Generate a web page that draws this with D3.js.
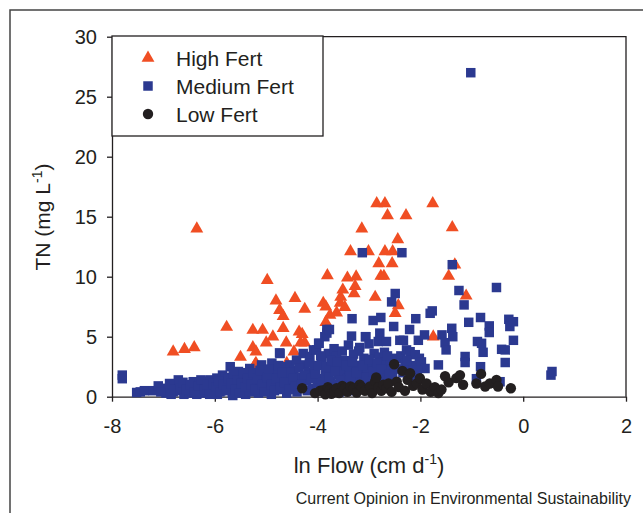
<!DOCTYPE html>
<html>
<head>
<meta charset="utf-8">
<script src="https://cdn.jsdelivr.net/npm/d3@7"></script>
<style>
    body { margin: 0; background: #fff; }
    svg { display: block; font-family: "Liberation Sans", Arial, sans-serif; }
    .axis path, .axis line { stroke: #231f20; stroke-width: 1.3; }
    .axis text { font-size: 20px; fill: #231f20; }
</style>
</head>
<body>
<div id="chart"></div>
<script>
// Data: [ln flow (cm/d), TN (mg/L)]
const highFert = [
    [-6.35, 14.0], [-6.81, 3.75], [-6.59, 3.95], [-6.40, 4.1], [-5.77, 5.8], [-5.50, 3.3],
    [-5.26, 5.55], [-5.07, 5.55], [-4.98, 9.7], [-4.81, 8.0], [-4.74, 7.2], [-4.67, 6.7],
    [-4.44, 8.2], [-4.25, 7.3], [-4.67, 5.7], [-4.87, 5.0], [-5.00, 4.5], [-4.61, 4.5],
    [-5.26, 4.1], [-5.20, 3.75], [-4.36, 5.4], [-4.30, 5.2], [-4.33, 4.5], [-4.25, 4.5],
    [-4.46, 3.75], [-5.20, 2.8], [-4.60, 2.8], [-5.22, 2.65], [-3.81, 10.1], [-3.89, 7.8],
    [-3.84, 7.5], [-3.76, 6.8], [-3.63, 7.0], [-3.56, 7.8], [-3.55, 8.3], [-3.51, 8.9],
    [-3.47, 7.45], [-3.42, 9.9], [-3.25, 10.0], [-3.27, 9.2], [-3.29, 8.6], [-3.36, 12.1],
    [-3.14, 14.0], [-3.84, 6.2], [-2.85, 16.1], [-2.69, 16.1], [-1.76, 16.1], [-2.64, 15.1],
    [-2.28, 15.1], [-1.38, 14.1], [-2.44, 13.1], [-3.01, 12.1], [-2.69, 12.1], [-2.54, 12.1],
    [-2.81, 11.1], [-2.55, 11.1], [-1.33, 11.0], [-2.77, 10.05], [-2.71, 10.05], [-1.45, 10.05],
    [-2.88, 8.3], [-1.11, 8.4], [-2.43, 7.6], [-2.49, 6.95], [-1.75, 5.0]
];

const mediumFert = [
    [-7.80, 1.5], [-7.80, 1.8], [-7.52, 0.35], [-7.45, 0.4], [-7.37, 0.5], [-7.00, 0.7],
    [-6.95, 0.3], [-6.90, 0.6], [-6.81, 0.4], [-6.75, 0.9], [-6.71, 1.4], [-6.65, 0.5],
    [-6.60, 0.2], [-6.58, 1.0], [-6.50, 0.3], [-6.45, 0.8], [-6.42, 1.25], [-6.39, 0.7],
    [-6.35, 0.2], [-6.30, 1.1], [-6.29, 0.55], [-6.25, 0.3], [-6.22, 0.9], [-6.18, 0.4],
    [-6.12, 1.3], [-6.09, 1.4], [-6.05, 0.7], [-6.00, 0.3], [-5.96, 1.55], [-5.95, 0.2],
    [-5.92, 1.0], [-5.88, 0.5], [-5.85, 1.8], [-5.80, 1.6], [-5.76, 1.2], [-5.72, 0.8],
    [-5.70, 2.5], [-5.66, 0.3], [-5.65, 0.1], [-5.62, 1.5], [-5.58, 1.0], [-5.54, 2.1],
    [-5.50, 0.6], [-5.46, 1.7], [-5.42, 1.2], [-5.40, 0.2], [-5.38, 1.95], [-5.35, 0.9],
    [-5.32, 2.35], [-5.28, 0.4], [-5.25, 1.5], [-5.20, 1.1], [-5.15, 1.9], [-5.15, 0.3],
    [-5.10, 0.7], [-5.09, 2.65], [-5.05, 1.4], [-5.00, 2.0], [-4.96, 0.5], [-4.93, 1.2],
    [-4.90, 0.2], [-4.89, 2.8], [-4.86, 1.7], [-4.82, 0.9], [-4.78, 2.2], [-4.74, 3.65],
    [-4.73, 3.6], [-4.70, 1.4], [-4.66, 0.6], [-4.62, 2.5], [-4.60, 0.3], [-4.58, 1.9],
    [-4.54, 2.65], [-4.50, 1.1], [-4.46, 2.2], [-4.41, 3.05], [-4.40, 0.4], [-4.38, 0.8],
    [-4.34, 1.6], [-4.28, 3.6], [-4.25, 2.65], [-4.22, 1.3], [-4.18, 2.0], [-4.15, 3.35],
    [-4.10, 0.7], [-4.08, 3.9], [-4.06, 2.4], [-4.02, 3.9], [-4.00, 1.0], [-3.98, 4.45],
    [-3.97, 4.45], [-3.95, 1.5], [-3.93, 0.5], [-3.92, 2.9], [-3.88, 0.9], [-3.86, 5.0],
    [-3.85, 1.8], [-3.82, 5.6], [-3.82, 5.3], [-3.80, 2.2], [-3.79, 3.6], [-3.77, 5.6],
    [-3.75, 1.3], [-3.72, 2.7], [-3.70, 0.6], [-3.68, 4.0], [-3.65, 1.0], [-3.63, 3.35],
    [-3.60, 1.8], [-3.58, 0.4], [-3.55, 2.5], [-3.50, 0.9], [-3.48, 2.0], [-3.46, 3.0],
    [-3.42, 1.5], [-3.40, 0.7], [-3.38, 2.2], [-3.35, 1.0], [-3.34, 5.05], [-3.33, 6.5],
    [-3.30, 3.55], [-3.28, 0.5], [-3.26, 1.2], [-3.22, 2.6], [-3.20, 1.5], [-3.18, 4.1],
    [-3.16, 0.9], [-3.14, 1.8], [-3.13, 12.0], [-3.10, 3.2], [-3.08, 2.0], [-3.07, 5.0],
    [-3.06, 5.0], [-3.04, 2.3], [-3.02, 1.2], [-3.00, 4.4], [-2.98, 2.8], [-2.96, 1.5],
    [-2.94, 0.9], [-2.92, 6.35], [-2.90, 3.6], [-2.88, 1.9], [-2.86, 2.4], [-2.82, 4.6],
    [-2.80, 3.3], [-2.79, 5.3], [-2.77, 6.6], [-2.74, 2.9], [-2.72, 1.7], [-2.70, 3.7],
    [-2.68, 2.6], [-2.66, 4.6], [-2.62, 2.2], [-2.58, 3.0], [-2.56, 7.9], [-2.54, 1.6],
    [-2.52, 5.85], [-2.49, 8.6], [-2.47, 3.2], [-2.44, 2.3], [-2.40, 4.7], [-2.38, 3.4],
    [-2.36, 12.0], [-2.33, 4.7], [-2.30, 2.8], [-2.27, 3.9], [-2.24, 2.2], [-2.21, 5.6],
    [-2.20, 3.75], [-2.14, 2.6], [-2.10, 3.5], [-2.09, 6.5], [-2.04, 4.7], [-2.02, 3.2],
    [-1.98, 2.9], [-1.92, 5.15], [-1.91, 2.35], [-1.81, 6.95], [-1.77, 7.15], [-1.65, 2.65],
    [-1.58, 5.15], [-1.52, 4.5], [-1.50, 3.9], [-1.39, 5.7], [-1.38, 11.0], [-1.37, 5.0],
    [-1.25, 8.85], [-1.15, 7.65], [-1.13, 3.35], [-1.13, 2.85], [-1.06, 6.2], [-1.02, 27.0],
    [-0.91, 1.5], [-0.89, 4.6], [-0.83, 6.6], [-0.83, 2.5], [-0.81, 4.45], [-0.78, 3.7],
    [-0.66, 5.9], [-0.66, 5.35], [-0.52, 9.1], [-0.45, 1.25], [-0.42, 3.95], [-0.35, 3.9],
    [-0.35, 2.85], [-0.28, 6.45], [-0.26, 5.85], [-0.19, 6.25], [-0.19, 4.7], [0.54, 1.8],
    [0.56, 2.1],
    // dense band underneath
    [-7.20, 0.5], [-7.10, 0.9], [-7.05, 0.4], [-6.88, 1.1], [-6.85, 0.2], [-6.78, 0.6],
    [-6.68, 0.7], [-6.62, 1.2], [-6.55, 0.6], [-6.48, 1.0], [-6.40, 0.4], [-6.33, 0.9],
    [-6.27, 1.4], [-6.20, 0.6], [-6.15, 1.0], [-6.10, 0.2], [-6.03, 1.1], [-5.98, 0.8],
    [-5.93, 1.3], [-5.90, 0.4], [-5.83, 1.0], [-5.78, 0.5], [-5.74, 1.5], [-5.68, 1.1],
    [-5.64, 1.9], [-5.60, 0.6], [-5.56, 1.4], [-5.52, 0.3], [-5.48, 1.1], [-5.44, 2.0],
    [-5.40, 0.8], [-5.36, 1.5], [-5.30, 1.0], [-5.26, 2.0], [-5.22, 0.6], [-5.18, 1.5],
    [-5.12, 2.2], [-5.08, 1.0], [-5.03, 0.4], [-4.98, 1.6], [-4.95, 2.3], [-4.90, 1.0],
    [-4.84, 0.5], [-4.80, 1.5], [-4.76, 2.6], [-4.72, 0.8], [-4.68, 2.0], [-4.64, 1.2],
    [-4.56, 0.6], [-4.52, 2.0], [-4.48, 1.5], [-4.44, 0.9], [-4.36, 2.4], [-4.32, 1.0],
    [-4.26, 1.8], [-4.20, 0.5], [-4.16, 2.8], [-4.12, 1.5], [-4.04, 1.9], [-3.98, 2.6],
    [-3.94, 3.4], [-3.90, 1.2], [-3.84, 2.5], [-3.78, 1.6], [-3.74, 3.0], [-3.66, 2.1],
    [-3.62, 2.9], [-3.56, 1.4], [-3.52, 3.8], [-3.44, 2.6], [-3.40, 4.3], [-3.36, 1.7],
    [-3.32, 2.9], [-3.24, 2.0], [-3.20, 3.8], [-3.12, 2.6], [-3.06, 1.6], [-3.00, 3.1],
    [-2.92, 2.1], [-2.84, 2.8], [-2.76, 2.3], [-2.64, 3.4], [-2.60, 1.9], [-2.50, 2.6],
    [-2.34, 2.0], [-2.26, 3.0], [-2.16, 1.6], [-2.06, 2.2]
];

const lowFert = [
    [-4.30, 0.7], [-4.05, 0.3], [-3.95, 0.5], [-3.89, 0.55], [-3.85, 0.2], [-3.80, 0.8],
    [-3.76, 0.6], [-3.73, 0.25], [-3.68, 0.4], [-3.63, 0.7], [-3.58, 0.3], [-3.52, 0.9],
    [-3.47, 0.7], [-3.42, 0.4], [-3.36, 0.85], [-3.30, 0.7], [-3.24, 0.35], [-3.18, 1.0],
    [-3.14, 0.8], [-3.08, 0.5], [-2.98, 0.85], [-2.94, 0.3], [-2.88, 1.3], [-2.86, 1.6],
    [-2.82, 0.8], [-2.76, 0.5], [-2.72, 1.0], [-2.66, 0.7], [-2.62, 1.1], [-2.56, 0.4],
    [-2.51, 2.7], [-2.46, 1.25], [-2.42, 0.8], [-2.35, 2.15], [-2.30, 0.5], [-2.25, 1.4],
    [-2.20, 1.95], [-2.14, 0.9], [-2.07, 1.1], [-2.01, 1.55], [-1.96, 0.6], [-1.88, 1.1],
    [-1.80, 0.4], [-1.72, 0.8], [-1.65, 0.3], [-1.59, 0.6], [-1.52, 1.7], [-1.45, 1.2],
    [-1.30, 1.55], [-1.23, 1.8], [-1.17, 1.0], [-0.91, 1.1], [-0.82, 1.9], [-0.74, 0.85],
    [-0.65, 1.1], [-0.52, 1.4], [-0.49, 0.85], [-0.24, 0.7]
];

const xTicks = [-8, -6, -4, -2, 0, 2];
const yTicks = [0, 5, 10, 15, 20, 25, 30];
const seriesNames = ['High Fert', 'Medium Fert', 'Low Fert'];
const seriesColors = ['#f04e23', '#2b3990', '#231f20'];

const width = 643;
const height = 513;

const svg = d3.select('#chart')
    .append('svg')
    .attr('width', width)
    .attr('height', height);

// Outer figure frame (only top and left edges show in the crop)
svg.append('path')
    .attr('d', `M10,${height} L10,10 L${width},10`)
    .attr('fill', 'none')
    .attr('stroke', '#444')
    .attr('stroke-width', 1.5);

const x = d3.scaleLinear().domain([-8, 2]).range([112, 626]);
const y = d3.scaleLinear().domain([0, 30]).range([396.7, 36.7]);

// Plot box: top and right edges
svg.append('path')
    .attr('d', `M${x(-8)},${y(30)} L${x(2)},${y(30)} L${x(2)},${y(0)}`)
    .attr('fill', 'none')
    .attr('stroke', '#231f20')
    .attr('stroke-width', 1.3);

// Axes
svg.append('g')
    .attr('class', 'axis')
    .attr('transform', `translate(0,${y(0)})`)
    .call(d3.axisBottom(x).tickValues(xTicks).tickSize(5).tickSizeOuter(0).tickPadding(17)
        .tickFormat(d => d));

svg.append('g')
    .attr('class', 'axis')
    .attr('transform', `translate(${x(-8)},0)`)
    .call(d3.axisLeft(y).tickValues(yTicks).tickSize(5).tickSizeOuter(0).tickPadding(10));

// Points: triangles first, then squares, then circles on top
const tri = d3.symbol().type(d3.symbolTriangle).size(72);
const sq = d3.symbol().type(d3.symbolSquare).size(90);

svg.append('g')
    .selectAll('path')
    .data(highFert)
    .enter()
    .append('path')
    .attr('d', tri)
    .attr('transform', d => `translate(${x(d[0])},${y(d[1])})`)
    .attr('fill', seriesColors[0]);

svg.append('g')
    .selectAll('path')
    .data(mediumFert)
    .enter()
    .append('path')
    .attr('d', sq)
    .attr('transform', d => `translate(${x(d[0])},${y(d[1])})`)
    .attr('fill', seriesColors[1]);

svg.append('g')
    .selectAll('circle')
    .data(lowFert)
    .enter()
    .append('circle')
    .attr('cx', d => x(d[0]))
    .attr('cy', d => y(d[1]))
    .attr('r', 5.2)
    .attr('fill', seriesColors[2]);

// Legend box in the top-left corner of the plot
const legend = svg.append('g');
legend.append('rect')
    .attr('x', 112)
    .attr('y', 36)
    .attr('width', 211)
    .attr('height', 100)
    .attr('fill', '#fff')
    .attr('stroke', '#231f20')
    .attr('stroke-width', 1.3);

const legendMarks = [tri, sq, null];
seriesNames.forEach((name, i) => {
    const ly = 58 + i * 28;
    if (legendMarks[i]) {
        legend.append('path')
            .attr('d', legendMarks[i])
            .attr('transform', `translate(148,${ly})`)
            .attr('fill', seriesColors[i]);
    } else {
        legend.append('circle')
            .attr('cx', 148).attr('cy', ly).attr('r', 5.2)
            .attr('fill', seriesColors[i]);
    }
    legend.append('text')
        .attr('x', 176)
        .attr('y', ly + 7.5)
        .attr('font-size', 21)
        .attr('fill', '#231f20')
        .text(name);
});

// Axis titles
const xTitle = svg.append('text')
    .attr('x', 369)
    .attr('y', 473)
    .attr('text-anchor', 'middle')
    .attr('font-size', 22)
    .attr('fill', '#231f20');
xTitle.append('tspan').text('ln Flow (cm d');
xTitle.append('tspan').attr('dy', -9).attr('font-size', 14).text('-1');
xTitle.append('tspan').attr('dy', 9).text(')');

const yTitle = svg.append('text')
    .attr('transform', 'translate(50,217) rotate(-90)')
    .attr('text-anchor', 'middle')
    .attr('font-size', 21)
    .attr('fill', '#231f20');
yTitle.append('tspan').text('TN (mg L');
yTitle.append('tspan').attr('dy', -8).attr('font-size', 14).text('-1');
yTitle.append('tspan').attr('dy', 8).text(')');

// Journal credit line
svg.append('text')
    .attr('x', 631)
    .attr('y', 504)
    .attr('text-anchor', 'end')
    .attr('font-size', 16)
    .attr('fill', '#231f20')
    .text('Current Opinion in Environmental Sustainability');
</script>
</body>
</html>
